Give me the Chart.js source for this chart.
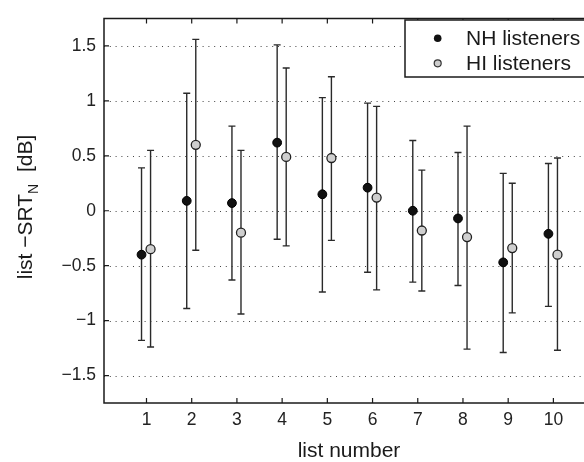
<!DOCTYPE html>
<html>
<head>
<meta charset="utf-8">
<script src="https://cdn.jsdelivr.net/npm/chart.js@4.4.0/dist/chart.umd.min.js"></script>
<style>
html, body { margin: 0; padding: 0; background: #fff; overflow: hidden; }
#wrap { width: 620px; height: 462px; }
</style>
</head>
<body>
<div id="wrap"><canvas id="srt-chart"></canvas></div>
<script>
// list numbers and the two groups (mean, upper and lower end of error bar)
const listNumbers = [1, 2, 3, 4, 5, 6, 7, 8, 9, 10];
const nhMean  = [-0.40, 0.09, 0.07, 0.62, 0.15, 0.21, 0.00, -0.07, -0.47, -0.21];
const nhUpper = [0.39, 1.07, 0.77, 1.51, 1.03, 0.98, 0.64, 0.53, 0.34, 0.43];
const nhLower = [-1.18, -0.89, -0.63, -0.26, -0.74, -0.56, -0.65, -0.68, -1.29, -0.87];
const hiMean  = [-0.35, 0.60, -0.20, 0.49, 0.48, 0.12, -0.18, -0.24, -0.34, -0.40];
const hiUpper = [0.55, 1.56, 0.55, 1.30, 1.22, 0.95, 0.37, 0.77, 0.25, 0.48];
const hiLower = [-1.24, -0.36, -0.94, -0.32, -0.27, -0.72, -0.73, -1.26, -0.93, -1.27];
const yTicks = [-1.5, -1, -0.5, 0, 0.5, 1, 1.5];
const xTickMarks = [1, 2, 3, 4, 5, 6, 7, 8, 9, 10, 11];
const seriesNames = ['NH listeners', 'HI listeners'];

const FONT = "'Liberation Sans', Arial, Helvetica, sans-serif";
Chart.defaults.font.family = FONT;
Chart.defaults.color = '#222';

const nhOffset = -0.11, hiOffset = 0.09;

const framePlugin = {
  id: 'frame',
  beforeDatasetsDraw(chart) {
    const { ctx, chartArea: a, scales: { x, y } } = chart;
    ctx.save();
    // dotted grid
    ctx.strokeStyle = '#444';
    ctx.lineWidth = 1;
    ctx.setLineDash([1, 4.8]);
    yTicks.forEach(v => {
      const py = Math.round(y.getPixelForValue(v)) + 0.5;
      ctx.beginPath();
      ctx.moveTo(a.left, py);
      ctx.lineTo(a.right, py);
      ctx.stroke();
    });
    ctx.setLineDash([]);
    // error bars
    ctx.strokeStyle = '#2a2a2a';
    ctx.lineWidth = 1.4;
    chart.data.datasets.forEach(ds => {
      ds.data.forEach((p, i) => {
        const px = x.getPixelForValue(p.x);
        const top = y.getPixelForValue(ds.errUpper[i]);
        const bot = y.getPixelForValue(ds.errLower[i]);
        ctx.beginPath();
        ctx.moveTo(px, top); ctx.lineTo(px, bot);
        ctx.moveTo(px - 3.5, top); ctx.lineTo(px + 3.5, top);
        ctx.moveTo(px - 3.5, bot); ctx.lineTo(px + 3.5, bot);
        ctx.stroke();
      });
    });
    ctx.restore();
  },
  afterDatasetsDraw(chart) {
    const { ctx, chartArea: a, scales: { x, y } } = chart;
    ctx.save();
    ctx.strokeStyle = '#1a1a1a';
    ctx.lineWidth = 1.5;
    ctx.strokeRect(a.left, a.top, a.right - a.left, a.bottom - a.top);
    // inward tick marks
    ctx.lineWidth = 1.2;
    ctx.beginPath();
    xTickMarks.forEach(v => {
      const px = x.getPixelForValue(v);
      ctx.moveTo(px, a.bottom); ctx.lineTo(px, a.bottom - 5);
      ctx.moveTo(px, a.top); ctx.lineTo(px, a.top + 5);
    });
    yTicks.forEach(v => {
      const py = y.getPixelForValue(v);
      ctx.moveTo(a.left, py); ctx.lineTo(a.left + 5, py);
    });
    ctx.stroke();

    // legend
    ctx.fillStyle = '#fff';
    ctx.fillRect(405, 20, 220, 57);
    ctx.lineWidth = 1.5;
    ctx.strokeStyle = '#1a1a1a';
    ctx.strokeRect(405, 20, 220, 57);
    ctx.beginPath();
    ctx.arc(437.7, 38.3, 3.8, 0, Math.PI * 2);
    ctx.fillStyle = '#111';
    ctx.fill();
    ctx.beginPath();
    ctx.arc(437.7, 63.3, 3.5, 0, Math.PI * 2);
    ctx.fillStyle = '#ccc';
    ctx.fill();
    ctx.lineWidth = 1.2;
    ctx.strokeStyle = '#333';
    ctx.stroke();
    ctx.fillStyle = '#1a1a1a';
    ctx.font = '21px ' + FONT;
    ctx.textBaseline = 'middle';
    ctx.textAlign = 'left';
    ctx.fillText(seriesNames[0], 466, 39);
    ctx.fillText(seriesNames[1], 466, 64);

    // x title
    ctx.textBaseline = 'alphabetic';
    ctx.textAlign = 'center';
    ctx.fillText('list number', 349, 457);

    // y title with subscript
    ctx.translate(32, 207);
    ctx.rotate(-Math.PI / 2);
    ctx.textAlign = 'left';
    const mainFont = '21px ' + FONT, subFont = '14px ' + FONT;
    const p1 = 'list \u2212SRT', p2 = 'N', p3 = '  [dB]';
    ctx.font = mainFont;
    const w1 = ctx.measureText(p1).width, w3 = ctx.measureText(p3).width;
    ctx.font = subFont;
    const w2 = ctx.measureText(p2).width;
    let u = -(w1 + w2 + w3) / 2;
    ctx.font = mainFont;
    ctx.fillText(p1, u, 0); u += w1;
    ctx.font = subFont;
    ctx.fillText(p2, u, 6); u += w2;
    ctx.font = mainFont;
    ctx.fillText(p3, u, 0);
    ctx.restore();
  }
};

const fmt = v => (v < 0 ? '\u2212' : '') + String(Math.abs(v));

new Chart(document.getElementById('srt-chart'), {
  type: 'scatter',
  data: {
    datasets: [{
      label: seriesNames[0],
      data: listNumbers.map((n, i) => ({ x: n + nhOffset, y: nhMean[i] })),
      errUpper: nhUpper,
      errLower: nhLower,
      backgroundColor: '#111',
      borderColor: '#000',
      borderWidth: 1,
      pointRadius: 4.4
    }, {
      label: seriesNames[1],
      data: listNumbers.map((n, i) => ({ x: n + hiOffset, y: hiMean[i] })),
      errUpper: hiUpper,
      errLower: hiLower,
      backgroundColor: '#cfcfcf',
      borderColor: '#222',
      borderWidth: 1.3,
      pointRadius: 4.5
    }]
  },
  options: {
    responsive: true,
    maintainAspectRatio: false,
    animation: false,
    layout: { padding: { left: 0, top: 12, right: 21.4, bottom: 0 } },
    plugins: { legend: { display: false }, tooltip: { enabled: false } },
    scales: {
      x: {
        type: 'linear',
        min: 0.06,
        max: 11,
        afterBuildTicks: s => { s.ticks = listNumbers.map(v => ({ value: v })); },
        afterFit: s => { s.height = 59; },
        grid: { display: false, drawTicks: false },
        border: { display: false },
        ticks: { font: { size: 17.5 }, color: '#222', padding: 7, maxRotation: 0, autoSkip: false }
      },
      y: {
        min: -1.75,
        max: 1.75,
        afterBuildTicks: s => { s.ticks = yTicks.map(v => ({ value: v })); },
        afterFit: s => { s.width = 104; },
        grid: { display: false, drawTicks: false },
        border: { display: false },
        ticks: { font: { size: 17.5 }, color: '#222', padding: 8, callback: fmt }
      }
    }
  },
  plugins: [framePlugin]
});
</script>
</body>
</html>
